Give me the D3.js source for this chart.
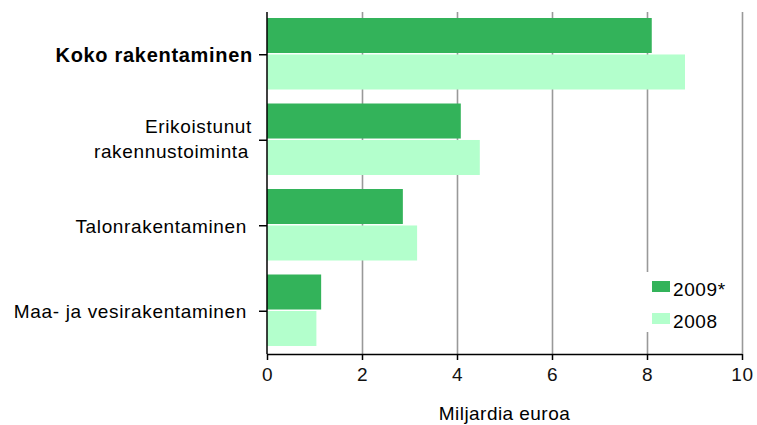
<!DOCTYPE html>
<html>
<head>
<meta charset="utf-8">
<script src="https://cdn.jsdelivr.net/npm/d3@7"></script>
<style>
  body { margin: 0; background: #fff; }
  text { font-family: "Liberation Sans", Arial, sans-serif; fill: #000; letter-spacing: 0.6px; }
</style>
</head>
<body>
<div id="chart"></div>
<script>
var w = 757;
var h = 425;

// data
var categories = ['Koko rakentaminen', 'Erikoistunut rakennustoiminta', 'Talonrakentaminen', 'Maa- ja vesirakentaminen'];
var catLines = [['Koko rakentaminen'], ['Erikoistunut', 'rakennustoiminta'], ['Talonrakentaminen'], ['Maa- ja vesirakentaminen']];
var seriesNames = ['2009*', '2008'];
var values2009 = [8.1, 4.08, 2.86, 1.14];
var values2008 = [8.8, 4.48, 3.16, 1.04];
var xTicks = [0, 2, 4, 6, 8, 10];
var colors = ['#33b35a', '#b3ffcc'];

// right edge of each label line
var labelEnds = [[253], [252, 249], [247], [247]];

var svg = d3.select('#chart')
            .append('svg')
            .attr('width', w)
            .attr('height', h);

var x = d3.scaleLinear()
          .domain([0, 10])
          .range([267, 742]);

var y = d3.scaleBand()
          .domain(categories)
          .range([12, 354]);

var ySub = d3.scaleBand()
             .domain(seriesNames)
             .range([6, y.bandwidth() - 8])
             .paddingInner(0.04);

// gridlines
svg.append('g')
   .selectAll('line')
   .data(xTicks.slice(1))
   .enter()
   .append('line')
   .attr('x1', function(d){ return Math.round(x(d)) + 0.5; })
   .attr('x2', function(d){ return Math.round(x(d)) + 0.5; })
   .attr('y1', 12)
   .attr('y2', 354)
   .style('stroke', '#999')
   .style('stroke-width', 1.6);

// bars
var rows = categories.map(function(c, i){
    return {cat: c, vals: [values2009[i], values2008[i]]};
});

var groups = svg.append('g')
                .selectAll('g')
                .data(rows)
                .enter()
                .append('g')
                .attr('transform', function(d){ return 'translate(0,' + y(d.cat) + ')'; });

groups.selectAll('rect')
      .data(function(d){ return d.vals.map(function(v, j){ return {s: seriesNames[j], v: v, j: j}; }); })
      .enter()
      .append('rect')
      .attr('x', x(0))
      .attr('y', function(d){ return ySub(d.s); })
      .attr('width', function(d){ return x(d.v) - x(0); })
      .attr('height', ySub.bandwidth())
      .style('fill', function(d){ return colors[d.j]; });

// x axis
var xAxis = d3.axisBottom(x)
              .tickValues(xTicks)
              .tickSize(6)
              .tickFormat(d3.format('d'));

var gx = svg.append('g')
            .attr('transform', 'translate(0,354)')
            .call(xAxis);
gx.select('.domain').attr('d', 'M' + x(0) + ',0.5H' + x(10)).style('stroke', '#000').style('stroke-width', 1.5);
gx.selectAll('.tick line').style('stroke', '#000').style('stroke-width', 1.5);
gx.selectAll('.tick text')
  .attr('y', 14)
  .style('font-family', '"Liberation Sans", Arial, sans-serif')
  .style('font-size', '19px')
  .style('fill', '#111');

// y axis
svg.append('line')
   .attr('x1', x(0)).attr('x2', x(0))
   .attr('y1', 12).attr('y2', 354)
   .style('stroke', '#000')
   .style('stroke-width', 1.5);

var yTicks = svg.append('g')
                .selectAll('g')
                .data(categories)
                .enter()
                .append('g')
                .attr('transform', function(d){ return 'translate(0,' + (y(d) + y.bandwidth() / 2) + ')'; });

yTicks.append('line')
      .attr('x1', x(0) - 8).attr('x2', x(0))
      .style('stroke', '#000')
      .style('stroke-width', 1.5);

yTicks.append('text')
      .attr('text-anchor', 'end')
      .style('font-size', function(d, i){ return i === 0 ? '20px' : '19px'; })
      .style('letter-spacing', function(d, i){ return i === 0 ? '0.7px' : '0.65px'; })
      .style('font-weight', function(d, i){ return i === 0 ? 'bold' : 'normal'; })
      .each(function(d, i){
          var lines = catLines[i];
          var t = d3.select(this);
          var lh = 25;
          var y0 = 7 - (lines.length - 1) * lh / 2 - (lines.length > 1 ? 2 : 0);
          lines.forEach(function(l, k){
              t.append('tspan')
               .attr('x', labelEnds[i][k])
               .attr('y', y0 + k * lh)
               .text(l);
          });
      });

// axis title
svg.append('text')
   .attr('x', (x(0) + x(10)) / 2)
   .attr('y', 420)
   .attr('text-anchor', 'middle')
   .style('font-size', '19px')
   .style('letter-spacing', '0.45px')
   .text('Miljardia euroa');

// legend
var legend = svg.append('g');
legend.append('rect')
      .attr('x', 640).attr('y', 272)
      .attr('width', 95).attr('height', 60)
      .style('fill', '#fff');

var li = legend.selectAll('g.item')
               .data(seriesNames)
               .enter()
               .append('g')
               .attr('class', 'item')
               .attr('transform', function(d, i){ return 'translate(652,' + (281 + i * 32) + ')'; });
li.append('rect')
  .attr('width', 18).attr('height', 11)
  .style('fill', function(d, i){ return colors[i]; });
li.append('text')
  .attr('x', 21).attr('y', 15)
  .style('font-size', '19px')
  .text(function(d){ return d; });
</script>
</body>
</html>
